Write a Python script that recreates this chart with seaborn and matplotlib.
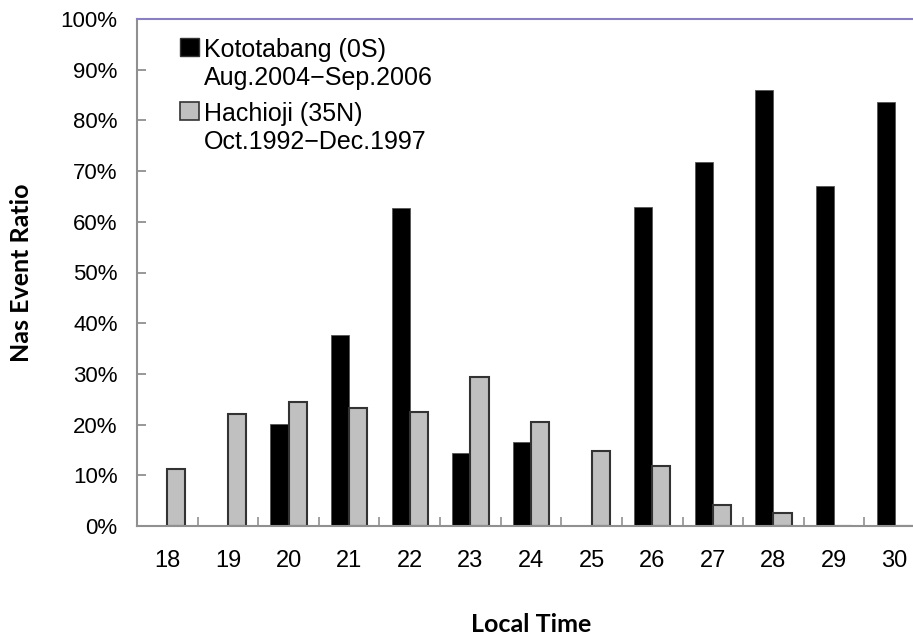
import matplotlib
matplotlib.use("Agg")
import matplotlib.pyplot as plt
import seaborn as sns
import pandas as pd
from matplotlib.patches import Patch, Rectangle
from matplotlib.legend_handler import HandlerPatch
from matplotlib.ticker import PercentFormatter, FixedLocator

hours = [18, 19, 20, 21, 22, 23, 24, 25, 26, 27, 28, 29, 30]
kototabang = [0.0, 0.0, 20.2, 37.7, 62.8, 14.3, 16.6, 0.0, 62.9, 71.7, 86.0, 67.0, 83.6]
hachioji = [11.2, 22.0, 24.5, 23.3, 22.5, 29.3, 20.5, 14.8, 11.8, 4.1, 2.6, 0.0, 0.0]
series_names = ["Kototabang (0S)\nAug.2004\u2212Sep.2006", "Hachioji (35N)\nOct.1992\u2212Dec.1997"]

df = pd.DataFrame({
    "hour": [str(h) for h in hours] * 2,
    "ratio": kototabang + hachioji,
    "site": [series_names[0]] * len(hours) + [series_names[1]] * len(hours),
})

sns.set_style("white")
plt.rcParams["font.family"] = ["Liberation Sans", "DejaVu Sans"]
for k in ["text.color", "axes.labelcolor", "xtick.color", "ytick.color"]:
    plt.rcParams[k] = "black"
plt.rcParams["ytick.left"] = True
plt.rcParams["xtick.bottom"] = True


class TopSquare(HandlerPatch):
    # put the legend square next to the first line of a two-line label
    def create_artists(self, legend, orig_handle, xdescent, ydescent,
                       width, height, fontsize, trans):
        p = Rectangle((-xdescent, -ydescent + fontsize * 0.72), width, height)
        self.update_prop(p, orig_handle, legend)
        p.set_transform(trans)
        return [p]


fig = plt.figure(figsize=(9.13, 6.36), dpi=100)
ax = fig.add_axes([137 / 913, 110 / 636, 788 / 913, 507 / 636])

colors = {series_names[0]: "black", series_names[1]: "#c0c0c0"}
sns.barplot(data=df, x="hour", y="ratio", hue="site", palette=colors,
            width=0.6, ax=ax, legend=False, saturation=1)

for i, patch in enumerate(ax.patches):
    if i < len(hours):
        patch.set_edgecolor("#555555")
        patch.set_linewidth(0.6)
    else:
        patch.set_edgecolor("#333333")
        patch.set_linewidth(1.5)

ax.set_xlim(-0.5, len(hours) - 0.5)
ax.set_ylim(0, 100)
ax.set_yticks(range(0, 101, 10))
ax.yaxis.set_major_formatter(PercentFormatter(decimals=0))

ax.xaxis.set_minor_locator(FixedLocator([i + 0.5 for i in range(len(hours) - 1)]))
ax.tick_params(axis="x", which="major", bottom=True, length=0, pad=17, labelsize=17)
ax.tick_params(axis="x", which="minor", bottom=True, direction="in", length=6.5, width=1.2, color="#909090")
ax.tick_params(axis="y", which="major", left=True, direction="in", length=6.5, width=1.3,
               color="#909090", pad=14, labelsize=16)

for s in ["left", "bottom"]:
    ax.spines[s].set_color("#909090")
    ax.spines[s].set_linewidth(1.5)
ax.spines["top"].set_color("#8a80c0")
ax.spines["top"].set_linewidth(1.5)
ax.spines["right"].set_visible(False)

ax.set_xlabel("Local Time", fontsize=18, fontweight="bold", family="Lato", labelpad=30)
ax.set_ylabel("Nas Event Ratio", fontsize=18, fontweight="bold", family="Lato", labelpad=20)

handles = [Patch(facecolor="black", edgecolor="#333333"),
           Patch(facecolor="#c0c0c0", edgecolor="#333333", linewidth=1.2)]
ax.legend(handles, series_names, loc="upper left", bbox_to_anchor=(0.042, 0.982),
          frameon=False, fontsize=18, handlelength=0.75, handleheight=0.75,
          handletextpad=0.2, labelspacing=0.5, borderaxespad=0,
          handler_map={Patch: TopSquare()})

fig.savefig("out.png", dpi=100)
